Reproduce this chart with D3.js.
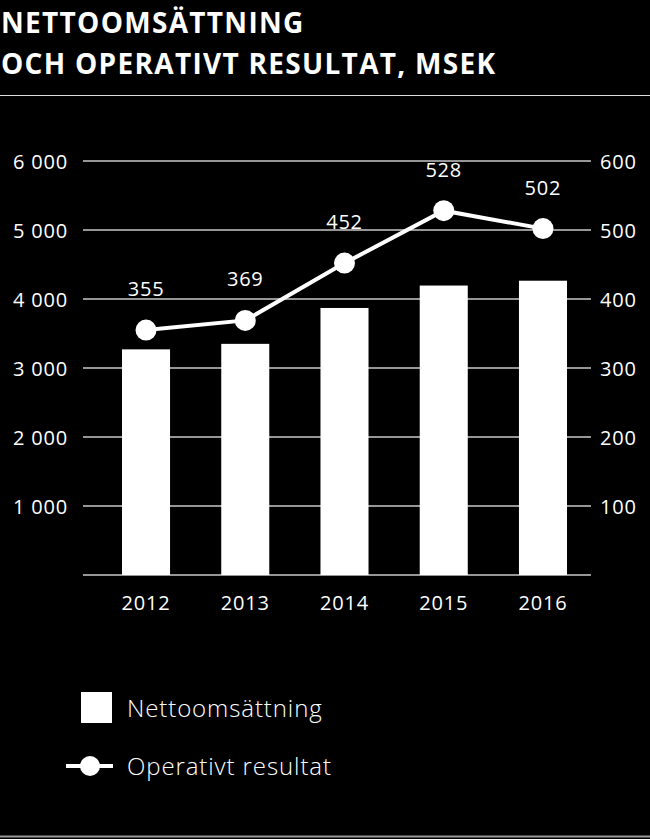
<!DOCTYPE html>
<html>
<head>
<meta charset="utf-8">
<script src="https://cdn.jsdelivr.net/npm/d3@7"></script>
<style>
  html, body { margin: 0; padding: 0; background: #000; }
  svg { display: block; }
</style>
</head>
<body>
<svg id="chart" width="650" height="839"></svg>
<script>
// Data
const years = ["2012", "2013", "2014", "2015", "2016"];
const netSales = [3270, 3350, 3870, 4195, 4265];
const operatingResult = [355, 369, 452, 528, 502];
const leftTicks = [1000, 2000, 3000, 4000, 5000, 6000];
const rightTicks = [100, 200, 300, 400, 500, 600];
const titleLines = ["NETTOOMSÄTTNING", "OCH OPERATIVT RESULTAT, MSEK"];
const legendLabels = ["Nettoomsättning", "Operativt resultat"];

const FONT = "'Open Sans', Lato, sans-serif";

const svg = d3.select("#chart");
const W = 650, H = 839;

svg.append("rect").attr("width", W).attr("height", H).attr("fill", "#000");

// Title
svg.append("g")
  .selectAll("text")
  .data(titleLines)
  .join("text")
  .attr("x", 1)
  .attr("y", (d, i) => 33 + i * 41)
  .attr("fill", "#fff")
  .style("font-family", FONT)
  .style("font-weight", 700)
  .style("font-size", "28px")
  .style("letter-spacing", "1.3px")
  .text((d) => d);

// Divider lines
svg.append("line")
  .attr("x1", 0).attr("x2", W).attr("y1", 95.5).attr("y2", 95.5)
  .attr("stroke", "#ddd").attr("stroke-width", 1.2);
svg.append("line")
  .attr("x1", 0).attr("x2", W).attr("y1", 836.5).attr("y2", 836.5)
  .attr("stroke", "#999").attr("stroke-width", 2);

// Scales
const plot = { left: 83, right: 591, top: 161, bottom: 575 };
const x = d3.scaleBand()
  .domain(years)
  .range([plot.left, 606])
  .paddingInner(0.516)
  .paddingOuter(0.393);
const yLeft = d3.scaleLinear().domain([0, 6000]).range([plot.bottom, plot.top]);
const yRight = d3.scaleLinear().domain([0, 600]).range([plot.bottom, plot.top]);

const fmt = (v) => d3.format(",")(v).replace(/,/g, " ");

// Gridlines
svg.append("g")
  .selectAll("line")
  .data([0, ...leftTicks])
  .join("line")
  .attr("x1", plot.left)
  .attr("x2", plot.right)
  .attr("y1", (d) => yLeft(d))
  .attr("y2", (d) => yLeft(d))
  .attr("stroke", "#c8c8c8")
  .attr("stroke-width", 1.5);

function styleAxisText(g) {
  g.select(".domain").remove();
  g.selectAll("text")
    .attr("fill", "#fff")
    .attr("dy", "0.36em")
    .style("font-family", FONT)
    .style("font-size", "20px")
    .style("letter-spacing", "0.8px");
}

// Left axis
svg.append("g")
  .attr("transform", `translate(${plot.left - 15},0)`)
  .call(d3.axisLeft(yLeft).tickValues(leftTicks).tickFormat(fmt).tickSize(0).tickPadding(0))
  .call(styleAxisText);

// Right axis
svg.append("g")
  .attr("transform", `translate(${plot.right + 9},0)`)
  .call(d3.axisRight(yRight).tickValues(rightTicks).tickSize(0).tickPadding(0))
  .call(styleAxisText);

// Bottom axis
svg.append("g")
  .attr("transform", `translate(0,${plot.bottom + 28})`)
  .call(d3.axisBottom(x).tickSize(0).tickPadding(0))
  .call(styleAxisText);

// Bars
svg.append("g")
  .selectAll("rect")
  .data(netSales)
  .join("rect")
  .attr("x", (d, i) => x(years[i]))
  .attr("y", (d) => yLeft(d))
  .attr("width", x.bandwidth())
  .attr("height", (d) => yLeft(0) - yLeft(d))
  .attr("fill", "#fff");

// Line
const cx = (i) => x(years[i]) + x.bandwidth() / 2;
const line = d3.line()
  .x((d, i) => cx(i))
  .y((d) => yRight(d));

svg.append("path")
  .datum(operatingResult)
  .attr("d", line)
  .attr("fill", "none")
  .attr("stroke", "#fff")
  .attr("stroke-width", 4);

svg.append("g")
  .selectAll("circle")
  .data(operatingResult)
  .join("circle")
  .attr("cx", (d, i) => cx(i))
  .attr("cy", (d) => yRight(d))
  .attr("r", 10.5)
  .attr("fill", "#fff");

// Value labels
svg.append("g")
  .selectAll("text")
  .data(operatingResult)
  .join("text")
  .attr("x", (d, i) => cx(i))
  .attr("y", (d) => yRight(d) - 34)
  .attr("text-anchor", "middle")
  .attr("fill", "#fff")
  .style("font-family", FONT)
  .style("font-size", "20px")
  .style("letter-spacing", "0.8px")
  .text((d) => d);

// Legend
const legend = svg.append("g");
legend.append("rect")
  .attr("x", 81).attr("y", 692).attr("width", 31).attr("height", 31)
  .attr("fill", "#fff");
legend.append("line")
  .attr("x1", 66).attr("x2", 113).attr("y1", 766).attr("y2", 766)
  .attr("stroke", "#fff").attr("stroke-width", 4);
legend.append("circle")
  .attr("cx", 90).attr("cy", 766).attr("r", 10)
  .attr("fill", "#fff");
legend.selectAll("text")
  .data(legendLabels)
  .join("text")
  .attr("x", 127)
  .attr("y", (d, i) => 717 + i * 58)
  .attr("fill", "#fff")
  .style("font-family", FONT)
  .style("font-weight", 300)
  .style("font-size", "24px")
  .style("letter-spacing", "0.9px")
  .text((d) => d);
</script>
</body>
</html>
